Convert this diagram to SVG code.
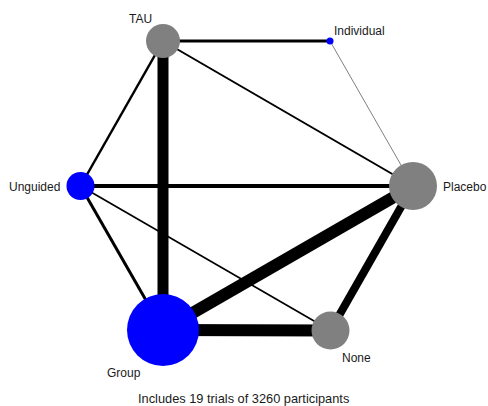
<svg xmlns="http://www.w3.org/2000/svg" width="488" height="406" viewBox="0 0 488 406">
<style>
text{font-family:"Liberation Sans",Arial,sans-serif;font-size:12px;fill:#1a1a1a}
.e{stroke:#000;fill:none}
.gray{fill:#808080}
.blue{fill:#0000ff}
</style>
<rect width="488" height="406" fill="#fff"/>
<g id="edges">
<line class="e" x1="163" y1="41" x2="330" y2="41" stroke-width="3"/>
<line class="e" x1="163" y1="41" x2="163" y2="330" stroke-width="11"/>
<line class="e" x1="163" y1="41" x2="80.5" y2="186" stroke-width="2.5"/>
<line class="e" x1="163" y1="41" x2="413" y2="186" stroke-width="2"/>
<line x1="330" y1="41" x2="413" y2="186" stroke="#808080" stroke-width="1"/>
<line class="e" x1="80.5" y1="186" x2="413" y2="186" stroke-width="4"/>
<line class="e" x1="80.5" y1="186" x2="330.5" y2="330.5" stroke-width="1.7"/>
<line class="e" x1="80.5" y1="186" x2="163" y2="330" stroke-width="3"/>
<line class="e" x1="163" y1="330" x2="413" y2="186" stroke-width="12"/>
<line class="e" x1="163" y1="330" x2="330.5" y2="330.5" stroke-width="12"/>
<line class="e" x1="330.5" y1="330.5" x2="413" y2="186" stroke-width="8"/>
</g>
<g id="TAU"><circle class="gray" cx="163" cy="41" r="17"/><text x="129" y="23">TAU</text></g>
<g id="Individual"><circle class="blue" cx="330" cy="41" r="3.5"/><text x="334" y="35">Individual</text></g>
<g id="Unguided"><circle class="blue" cx="80.5" cy="186" r="14"/><text x="9" y="190.5">Unguided</text></g>
<g id="Placebo"><circle class="gray" cx="413" cy="186" r="24"/><text x="443" y="190.5">Placebo</text></g>
<g id="Group"><circle class="blue" cx="163" cy="330" r="36"/><text x="107" y="377">Group</text></g>
<g id="None"><circle class="gray" cx="330.5" cy="330.5" r="19"/><text x="342" y="362">None</text></g>
<text x="138" y="403" style="font-size:12.8px">Includes 19 trials of 3260 participants</text>
</svg>
